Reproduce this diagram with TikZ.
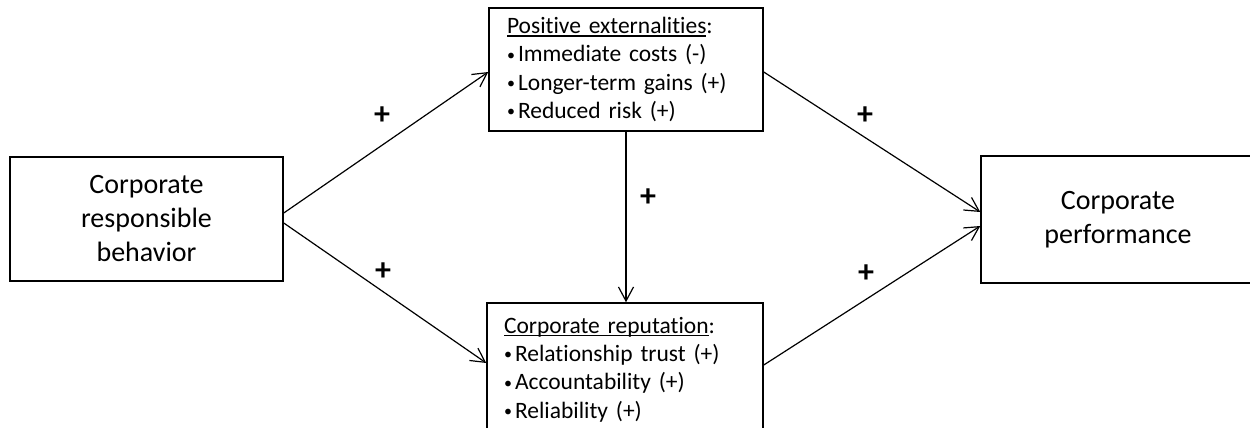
\documentclass[tikz,border=0pt]{standalone}
\usepackage{fontspec}
\setmainfont{Carlito}[Ligatures=NoCommon]
\usetikzlibrary{arrows.meta,calc}
\newcommand\ulx[1]{\setbox0\hbox{#1}\rlap{\rule[-3pt]{\wd0}{1.3pt}}\box0}
\newcommand\bul{\makebox[11pt][l]{\raisebox{1.6pt}{\fontsize{16}{16}\selectfont •}}}
\begin{document}
\begin{tikzpicture}[x=1pt,y=-1pt,
  box/.style={draw, line width=1.5pt, inner sep=0pt, anchor=center},
  big/.style={font=\fontsize{28}{34}\selectfont, align=center},
  list/.style={font=\fontsize{23.5}{28.3}\selectfont, align=left, inner xsep=18pt, inner ysep=0pt},
  conn/.style={line width=1.2pt, -{Straight Barb[length=14pt,width=15pt]}},
  plus/.style={font=\fontsize{32}{34}\bfseries\selectfont, inner sep=0pt}]
\useasboundingbox (0,0) rectangle (1250,428);
\clip (0,0) rectangle (1250,428);
\node[box,big,minimum width=273pt,minimum height=124pt] (crb) at (146.5,219) {Corporate\\responsible\\behavior};
\node[box,list,text width=238pt,minimum width=274pt,minimum height=123pt] (pe) at (626,69.5)
  {\ulx{Positive externalities}:\\ \bul Immediate costs (-)\\ \bul Longer-term gains (+)\\ \bul Reduced risk (+)};
\node[box,list,inner xsep=17pt,text width=242pt,minimum width=276pt,minimum height=133pt] (cr) at (625,369.5)
  {\ulx{Corporate reputation}:\\ \bul Relationship trust (+)\\ \bul Accountability (+)\\ \bul Reliability (+)};
\node[box,big,minimum width=274pt,minimum height=127pt] (cp) at (1118,219.5) {Corporate\\performance};
\draw[conn] ($(crb.east)+(0,-6)$) -- ($(pe.west)+(0,2.5)$);
\draw[conn] ($(crb.east)+(0,4)$) -- ($(cr.west)+(0,-6.5)$);
\draw[conn] ($(pe.east)+(0,2.5)$) -- ($(cp.west)+(0,-7.5)$);
\draw[conn] ($(cr.east)+(0,-4.5)$) -- ($(cp.west)+(0,6.5)$);
\draw[conn] (pe.south) -- (pe.south |- cr.north);
\node[plus] (p1) at (382,116) {+};
\node[plus] (p2) at (383,272) {+};
\node[plus] (p3) at (648,198) {+};
\node[plus] (p4) at (865,116) {+};
\node[plus] (p5) at (866,274) {+};
\end{tikzpicture}
\end{document}
